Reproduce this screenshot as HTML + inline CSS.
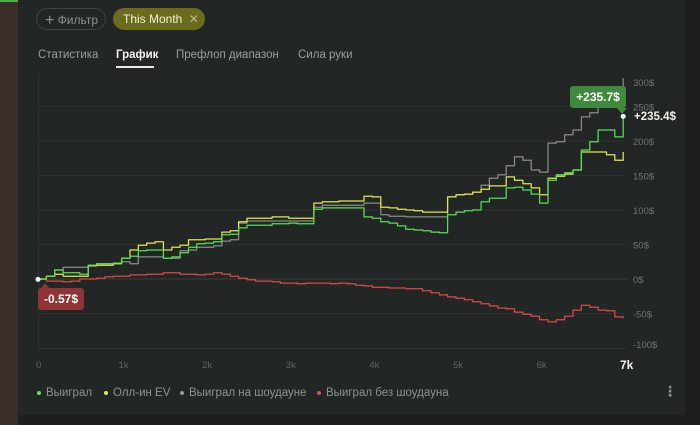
<!DOCTYPE html>
<html><head><meta charset="utf-8">
<style>
body{margin:0;width:700px;height:425px;overflow:hidden;background:#1c1f1e;font-family:"Liberation Sans","DejaVu Sans",sans-serif;position:relative}
.abs{position:absolute}
#leftstrip{left:0;top:0;width:18px;height:425px;background:#3b2e27}
#panel{left:18px;top:0;width:667px;height:415px;background:#222725}
.chip{border-radius:12px;height:22px;top:8px;font-size:12px;line-height:22px;box-sizing:border-box}
.tab{top:49px;font-size:11.5px;color:#9a9e9c}
.leg{top:387px;font-size:11.5px;color:#8e9290}
.dot{display:inline-block;width:4px;height:4px;border-radius:2px;margin-right:5px;vertical-align:middle}
</style></head><body>
<div class="abs" id="leftstrip"></div>
<div class="abs" style="left:0;top:0;width:18px;height:2px;background:#4caf50"></div>
<div class="abs" id="panel"></div>
<div class="abs chip" style="left:36px;width:70px;border:1px solid #3f4442;color:#8e9290;padding-left:8px"><span style="font-size:16px;vertical-align:-1px">+</span> Фильтр</div>
<div class="abs chip" style="left:113px;width:92px;background:#6b6b1c;color:#f0f0e0;padding-left:10px">This Month <span style="color:#b8b890;margin-left:3px">✕</span></div>
<div class="abs tab" style="left:38px">Статистика</div>
<div class="abs tab" style="left:116px;color:#f2f2f2;font-weight:bold">График</div>
<div class="abs" style="left:116px;top:66px;width:38px;height:1.5px;background:#e8e8e8"></div>
<div class="abs tab" style="left:176px">Префлоп диапазон</div>
<div class="abs tab" style="left:298px">Сила руки</div>

<svg class="abs" style="left:0;top:0" width="700" height="425">
<g id="grid"></g><g id="series"></g><g id="labels"></g>
</svg>

<div class="abs" style="left:570px;top:86px;width:56px;height:22px;background:#3f8a3d;border-radius:3px;color:#fff;font-weight:bold;font-size:12px;line-height:22px;text-align:center">+235.7$</div>
<div class="abs" style="left:617px;top:108px;width:0;height:0;border-left:5px solid transparent;border-right:5px solid transparent;border-top:6px solid #3f8a3d"></div>
<div class="abs" style="left:634px;top:111px;color:#f0f0e8;font-weight:bold;font-size:11.5px">+235.4$</div>
<div class="abs" style="left:38px;top:288px;width:46px;height:22px;background:#8e3434;border-radius:3px;color:#fff;font-weight:bold;font-size:12px;line-height:22px;text-align:center">-0.57$</div>
<div class="abs" style="left:40px;top:283px;width:0;height:0;border-left:5px solid transparent;border-right:5px solid transparent;border-bottom:6px solid #8e3434"></div>

<div class="abs leg" style="left:37px"><span class="dot" style="background:#5ce65c"></span>Выиграл</div>
<div class="abs leg" style="left:104px"><span class="dot" style="background:#e8e84a"></span>Олл-ин EV</div>
<div class="abs leg" style="left:180px"><span class="dot" style="background:#9a9a9a"></span>Выиграл на шоудауне</div>
<div class="abs leg" style="left:317px"><span class="dot" style="background:#e84d4d"></span>Выиграл без шоудауна</div>
<div class="abs" style="left:663px;top:383px;color:#8e9290;font-size:14px;font-weight:bold">⋮</div>

<script>
const hands = Array.from({length:71},(_, i)=>i*100);
const wonValues=[0,4,13,9,9,7,20,22,22,23,30,33,41,42,42,30,32,38,46,51,52,54,64,65,74,78,78,78,80,80,81,80,80,101,103,103,103,103,103,90,88,83,81,77,72,71,70,68,67,93,97,99,100,112,117,117,132,133,129,123,110,143,151,154,158,187,199,216,216,206,235.7];
const evValues=[0,4,7,4,4,4,19,20,20,22,30,42,49,52,54,42,46,49,57,57,58,58,68,70,83,88,88,88,90,90,88,88,88,110,112,112,113,113,113,120,119,104,103,101,100,99,97,97,97,119,122,123,126,130,135,135,148,143,138,132,122,146,149,152,158,184,184,184,180,172,184];
const sdValues=[0,4,13,17,17,17,20,22,22,23,25,22,32,32,32,30,30,41,42,46,46,48,55,57,81,84,84,84,84,84,84,84,84,104,107,107,107,107,107,110,110,93,91,91,90,90,90,90,90,119,122,123,126,136,146,151,164,177,172,158,155,197,199,209,216,235,241,252,264,264,291];
const nsdValues=[-0.57,-3,-3,-4,-3,0,0,1,3,4,4,6,6,7,7,9,9,7,7,6,7,9,7,4,1,-1,-3,-3,-4,-6,-6,-7,-6,-6,-6,-7,-6,-7,-9,-10,-12,-12,-13,-13,-14,-14,-17,-20,-23,-26,-28,-30,-33,-36,-39,-42,-43,-48,-51,-54,-59,-62,-59,-54,-45,-38,-41,-45,-46,-55,-57];
const yTicks=[300,250,200,150,100,50,0,-50,-100];
const yTickLabels=["300$","250$","200$","150$","100$","50$","0$","-50$","-100$"];
const xTicks=[0,1000,2000,3000,4000,5000,6000,7000];
const xTickLabels=["0","1k","2k","3k","4k","5k","6k","7k"];

const NS="http://www.w3.org/2000/svg";
const X=h=>38+h*0.0836;
const Y=v=>279-v*0.69;
const grid=document.getElementById('grid'),ser=document.getElementById('series'),lab=document.getElementById('labels');
function mk(tag,attrs,parent){const e=document.createElementNS(NS,tag);for(const k in attrs)e.setAttribute(k,attrs[k]);parent.appendChild(e);return e;}

const frame=mk('path',{d:'M38.5 73 V348.5 H627',stroke:'#2f3431',fill:'none'},grid);


yTicks.forEach((v,i)=>{
  if(v<=250&&v>=-50){const g=mk('line',{x1:39,x2:627,y1:Y(v),y2:Y(v),stroke:v===0?'#3a3f3c':'#2c312e','stroke-width':1},grid);
  
  }
  let ty=Y(v)+4; if(v===300) ty=86; if(v===-100) ty=348;
  const t=mk('text',{x:633,y:ty,fill:'#6e7371','font-size':'9.5'},lab);t.textContent=yTickLabels[i];
  
  
});
xTicks.forEach((h,i)=>{
  const last=i===xTicks.length-1;
  const t=mk('text',{x:last?620:X(h)-3+(i===0?1:0),y:last?369:368,fill:last?'#f2f2f2':'#5f6462','font-size':last?'12':'9.5','font-weight':last?'bold':'normal'},lab);
  t.textContent=xTickLabels[i];
  
  
});
function line(vals,color,name){
  let d='M'+X(hands[0])+' '+Y(vals[0]);
  for(let i=1;i<vals.length;i++){const xm=X(hands[i]);d+=' H'+xm.toFixed(1)+' V'+Y(vals[i]).toFixed(1);}
  const p=mk('path',{d:d,stroke:color,'stroke-width':1.25,fill:'none','stroke-linejoin':'round'},ser);
  
  
}
line(nsdValues,'#e04848','series-won-no-showdown');
line(sdValues,'#8a8a8a','series-won-showdown');
line(evValues,'#e6e64a','series-allin-ev');
line(wonValues,'#55e055','series-won');
const d1=mk('circle',{cx:X(0),cy:Y(nsdValues[0]),r:2.5,fill:'#fff'},ser);


const d2=mk('circle',{cx:X(7000),cy:Y(wonValues[70]),r:2.5,fill:'#fff'},ser);


</script>
</body></html>
